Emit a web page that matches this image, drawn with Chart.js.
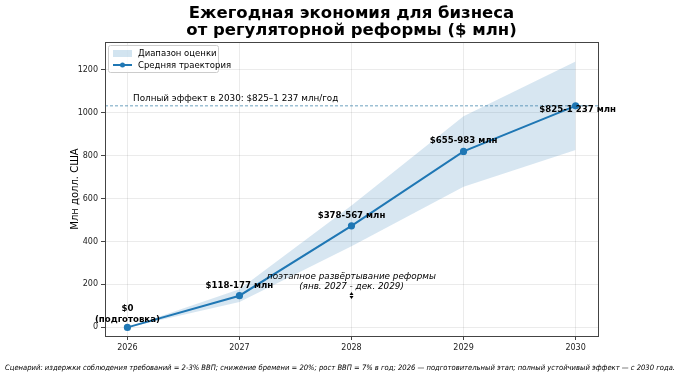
<!DOCTYPE html>
<html>
<head>
<meta charset="utf-8">
<script src="https://cdn.jsdelivr.net/npm/chart.js@4/dist/chart.umd.min.js"></script>
<style>
  html, body { margin: 0; padding: 0; background: #fff; }
  #wrap { width: 680px; height: 376px; }
</style>
</head>
<body>
<div id="wrap"><canvas id="savingsChart" width="680" height="376"></canvas></div>
<script>
// данные
const years = [2026, 2027, 2028, 2029, 2030];
const lowValues = [0, 118, 378, 655, 825];
const highValues = [0, 177, 567, 983, 1237];
const meanValues = [0, 147.5, 472.5, 819, 1031];
const pointLabels = [['$0', '(подготовка)'], ['$118-177 млн'], ['$378-567 млн'], ['$655-983 млн'], ['$825-1 237 млн']];
const fullEffect = 1031;
const yTicks = [0, 200, 400, 600, 800, 1000, 1200];

const FONT = '"DejaVu Sans", sans-serif';
const BLUE = '#1f77b4';
const xMin = 2025.8, xMax = 2030.2;

const toXY = arr => years.map((y, i) => ({ x: y, y: arr[i] }));

// подписи, заголовок, легенда
const decorPlugin = {
    id: 'decor',
    afterDatasetsDraw(chart) {
        const ctx = chart.ctx;
        const a = chart.chartArea;
        const xs = chart.scales.x, ys = chart.scales.y;
        ctx.save();

        // рамка
        ctx.strokeStyle = '#444';
        ctx.lineWidth = 1;
        ctx.strokeRect(a.left + 0.5, a.top + 0.5, a.right - a.left, a.bottom - a.top);

        // подписи точек
        ctx.fillStyle = '#000';
        ctx.font = 'bold 8.6px ' + FONT;
        ctx.textAlign = 'center';
        ctx.textBaseline = 'alphabetic';
        years.forEach((yr, i) => {
            const px = xs.getPixelForValue(yr);
            const py = ys.getPixelForValue(meanValues[i]);
            const lines = pointLabels[i];
            if (i === 0) {
                ctx.fillText(lines[0], px, py - 16);
                ctx.fillText(lines[1], px, py - 5);
            } else if (i === 4) {
                ctx.fillText(lines[0], px + 2, py + 6);
            } else {
                ctx.fillText(lines[0], px, py - 8);
            }
        });

        // подпись к линии полного эффекта
        ctx.font = '8.8px ' + FONT;
        ctx.textAlign = 'left';
        ctx.fillText('Полный эффект в 2030: $825–1 237 млн/год', xs.getPixelForValue(2026.05), ys.getPixelForValue(fullEffect) - 5);

        // поэтапное развёртывание
        ctx.font = 'italic 8.8px ' + FONT;
        ctx.textAlign = 'center';
        const cx = xs.getPixelForValue(2028);
        ctx.fillText('поэтапное развёртывание реформы', cx, 279);
        ctx.fillText('(янв. 2027 - дек. 2029)', cx, 289);
        // маленькая двойная стрелка
        ctx.fillStyle = '#000';
        ctx.beginPath();
        ctx.moveTo(cx, 292); ctx.lineTo(cx - 2, 295); ctx.lineTo(cx + 2, 295); ctx.closePath(); ctx.fill();
        ctx.beginPath();
        ctx.moveTo(cx, 299); ctx.lineTo(cx - 2, 296); ctx.lineTo(cx + 2, 296); ctx.closePath(); ctx.fill();

        // заголовок
        ctx.font = 'bold 16.5px ' + FONT;
        ctx.textAlign = 'center';
        const tx = (a.left + a.right) / 2;
        ctx.fillText('Ежегодная экономия для бизнеса', tx, 18);
        ctx.fillText('от регуляторной реформы ($ млн)', tx, 35);

        // подпись оси Y
        ctx.font = '10px ' + FONT;
        ctx.save();
        ctx.translate(78, (a.top + a.bottom) / 2);
        ctx.rotate(-Math.PI / 2);
        ctx.fillText('Млн долл. США', 0, 0);
        ctx.restore();

        // сноска
        const note = 'Сценарий: издержки соблюдения требований = 2-3% ВВП; снижение бремени = 20%; рост ВВП = 7% в год; 2026 — подготовительный этап; полный устойчивый эффект — с 2030 года.';
        ctx.font = 'italic 7.4px ' + FONT;
        ctx.textAlign = 'left';
        const w = ctx.measureText(note).width;
        ctx.save();
        ctx.translate(5, 370);
        ctx.scale(670 / w, 1);
        ctx.fillText(note, 0, 0);
        ctx.restore();

        // легенда
        const lx = a.left + 3, ly = a.top + 3;
        ctx.fillStyle = 'rgba(255,255,255,0.85)';
        ctx.strokeStyle = '#ccc';
        ctx.lineWidth = 1;
        ctx.beginPath();
        ctx.roundRect(lx + 0.5, ly + 0.5, 110, 27, 2);
        ctx.fill(); ctx.stroke();
        ctx.fillStyle = 'rgba(31,119,180,0.2)';
        ctx.fillRect(lx + 5, ly + 5, 19, 7);
        ctx.strokeStyle = BLUE;
        ctx.lineWidth = 2;
        ctx.beginPath();
        ctx.moveTo(lx + 5, ly + 20); ctx.lineTo(lx + 24, ly + 20); ctx.stroke();
        ctx.fillStyle = BLUE;
        ctx.beginPath(); ctx.arc(lx + 14.5, ly + 20, 2.5, 0, Math.PI * 2); ctx.fill();
        ctx.fillStyle = '#000';
        ctx.font = '8.5px ' + FONT;
        ctx.textAlign = 'left';
        ctx.textBaseline = 'middle';
        ctx.fillText('Диапазон оценки', lx + 30, ly + 9);
        ctx.fillText('Средняя траектория', lx + 30, ly + 20.5);
        ctx.restore();
    }
};

new Chart(document.getElementById('savingsChart').getContext('2d'), {
    type: 'line',
    data: {
        datasets: [
            {
                label: 'Верх',
                data: toXY(highValues),
                borderWidth: 0,
                pointRadius: 0,
                backgroundColor: 'rgba(31,119,180,0.18)',
                fill: 1,
                order: 3
            },
            {
                label: 'Низ',
                data: toXY(lowValues),
                borderWidth: 0,
                pointRadius: 0,
                fill: false,
                order: 3
            },
            {
                label: 'Полный эффект',
                data: [{ x: xMin, y: fullEffect }, { x: xMax, y: fullEffect }],
                borderColor: 'rgba(60,130,170,0.75)',
                borderWidth: 1,
                borderDash: [3, 2],
                pointRadius: 0,
                fill: false,
                order: 2
            },
            {
                label: 'Средняя траектория',
                data: toXY(meanValues),
                borderColor: BLUE,
                backgroundColor: BLUE,
                borderWidth: 2,
                pointRadius: 2.6,
                pointHoverRadius: 2.6,
                fill: false,
                tension: 0,
                order: 1
            }
        ]
    },
    options: {
        responsive: false,
        animation: false,
        layout: { padding: { top: 42, right: 82, bottom: 0, left: 0 } },
        plugins: {
            legend: { display: false },
            tooltip: { enabled: false }
        },
        scales: {
            x: {
                type: 'linear',
                min: xMin,
                max: xMax,
                afterBuildTicks: s => { s.ticks = years.map(v => ({ value: v })); },
                afterFit: s => { s.height = 40; },
                ticks: {
                    callback: v => String(v),
                    font: { family: FONT, size: 8 },
                    color: '#222',
                    padding: 3,
                    maxRotation: 0
                },
                grid: { color: 'rgba(0,0,0,0.08)', tickColor: '#444', tickLength: 4 },
                border: { display: false }
            },
            y: {
                min: -40,
                max: 1328,
                afterBuildTicks: s => { s.ticks = yTicks.map(v => ({ value: v })); },
                afterFit: s => { s.width = 105; },
                ticks: {
                    callback: v => String(v),
                    font: { family: FONT, size: 8 },
                    color: '#222',
                    padding: 3
                },
                grid: { color: 'rgba(0,0,0,0.08)', tickColor: '#444', tickLength: 4 },
                border: { display: false }
            }
        }
    },
    plugins: [decorPlugin]
});
</script>
</body>
</html>
